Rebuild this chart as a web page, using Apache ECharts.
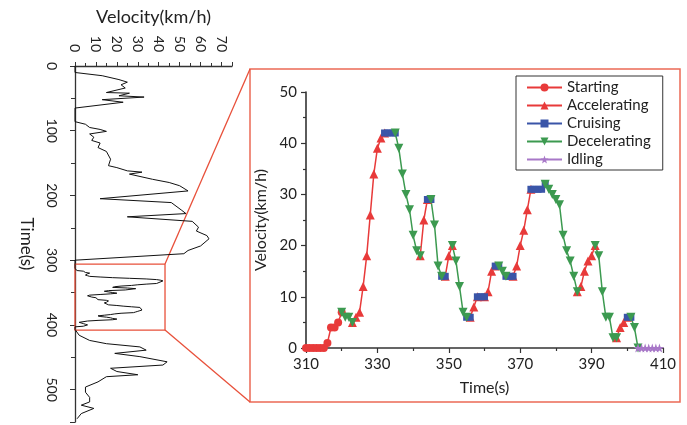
<!DOCTYPE html>
<html><head><meta charset="utf-8">
<script src="https://cdn.jsdelivr.net/npm/echarts@6/dist/echarts.min.js"></script>
<style>html,body{margin:0;padding:0;background:#fff}#c{width:687px;height:425px}</style>
</head><body><div id="c"></div>
<script>
// ---- overview (left) trace: time (s) and velocity (km/h), before and after the zoomed window
const overviewTimeA  = [0, 10, 15, 21, 25, 29, 34, 41, 42, 46, 48, 52, 56, 65, 86, 90, 95, 98, 101, 105, 110, 115, 119, 126, 132, 144, 154, 157, 162, 164, 167, 175, 180, 185, 193, 205, 211, 223, 228, 233, 240, 249, 255, 262, 267, 278, 285, 290, 300, 309];
const overviewSpeedA = [0, 0, 13, 21, 25, 22, 24, 15, 26, 21, 33, 13, 23, 0, 0, 5, 7, 12, 15, 7, 9, 8, 12, 11, 15, 17, 16, 20, 25, 32, 26, 37, 45, 50, 54, 12, 46, 51, 53, 25, 56, 59, 58, 63, 64, 60, 54, 52, 0, 0];
const overviewTimeB  = [410, 416, 424, 429, 434, 439, 444, 449, 457, 462, 467, 472, 477, 480, 488, 496, 504, 512, 519, 524, 529, 537, 545];
const overviewSpeedB = [0, 2, 7, 15, 31, 34, 19, 31, 44, 42, 17, 20, 30, 15, 11, 5, 5, 7, 7, 3, 9, 3, 1];

// ---- zoomed window (right)
const detailTime = [310,311,312,313,314,315,316,317,318,319,320,321,322,323,324,325,326,327,328,329,
  330,331,332,333,334,335,336,337,338,339,340,341,342,343,344,345,346,347,348,349,
  350,351,352,353,354,355,356,357,358,359,360,361,362,363,364,365,366,367,368,369,
  370,371,372,373,374,375,376,377,378,379,380,381,382,383,384,385,386,387,388,389,
  390,391,392,393,394,395,396,397,398,399,400,401,402,403,404,405,406,407,408,409];
const detailSpeed = [0,0,0,0,0,0,1,4,4,5,7,6,6,5,6,7,12,18,26,34,
  39,41,42,42,42,42,39,34,30,27,22,19,18,25,29,29,24,16,14,14,
  18,20,17,12,7,6,6,8,10,10,10,11,15,16,16,15,14,14,14,16,
  20,23,27,31,31,31,31,32,31,30,29,28,22,19,17,14,11,12,15,17,
  18,20,18,11,6,6,2,2,4,5,6,6,4,0,0,0,0,0,0,0];
// driving phase segments: [phase, first second, last second]
const phaseSegments = [
  ['Starting',310,320],['Decelerating',320,323],['Accelerating',323,332],['Cruising',332,335],
  ['Decelerating',335,342],['Accelerating',342,344],['Cruising',344,345],['Decelerating',345,348],
  ['Cruising',348,349],['Accelerating',349,351],['Decelerating',351,355],['Cruising',355,356],
  ['Accelerating',356,358],['Cruising',358,360],['Accelerating',360,363],['Cruising',363,364],
  ['Decelerating',364,366],['Cruising',366,368],['Accelerating',368,373],['Cruising',373,377],
  ['Decelerating',377,386],['Accelerating',386,391],['Decelerating',391,397],['Accelerating',397,400],
  ['Cruising',400,401],['Decelerating',401,403],['Idling',403,409]
];
const phaseNames = ['Starting','Accelerating','Cruising','Decelerating','Idling'];

const FONT = 'Lato';
const phaseStyle = {
  Starting:     {color:'#e83a3a', symbol:'circle',   size:8, rot:0},
  Accelerating: {color:'#e83a3a', symbol:'triangle', size:9, rot:0},
  Cruising:     {color:'#3a55a8', symbol:'rect',     size:7, rot:0},
  Decelerating: {color:'#3c9a50', symbol:'triangle', size:9, rot:180},
  Idling:       {color:'#a878c8', symbol:'path://M12 0L14.9 8.2L23.5 8.3L16.6 13.5L19.1 21.8L12 16.8L4.9 21.8L7.4 13.5L0.5 8.3L9.1 8.2Z', size:9, rot:0}
};

function phaseData(name){
  return detailTime.map((t,i)=>{
    const inside = phaseSegments.some(s=>s[0]===name && t>=s[1] && t<=s[2]);
    return inside ? [t, detailSpeed[i]] : [t, '-'];
  });
}

const overviewData = [];
overviewTimeA.forEach((t,i)=>overviewData.push([overviewSpeedA[i], t]));
detailTime.forEach((t,i)=>overviewData.push([detailSpeed[i], t]));
overviewTimeB.forEach((t,i)=>overviewData.push([overviewSpeedB[i], t]));

const axisCol = '#333';
const chart = echarts.init(document.getElementById('c'));
const phaseSeries = phaseNames.map(n=>({
  name:n, type:'line', xAxisIndex:1, yAxisIndex:1,
  data: phaseData(n), connectNulls:false,
  symbol: phaseStyle[n].symbol, symbolSize: phaseStyle[n].size, symbolRotate: phaseStyle[n].rot,
  showAllSymbol:true,
  lineStyle:{color:phaseStyle[n].color, width:1.5},
  itemStyle:{color:phaseStyle[n].color},
  emphasis:{disabled:true}, animation:false
}));

chart.setOption({
  animation:false,
  textStyle:{fontFamily:FONT},
  grid:[
    {left:75, top:66, width:157, height:357.5, containLabel:false},
    {left:306, top:92, width:357, height:256, containLabel:false}
  ],
  xAxis:[
    {gridIndex:0, type:'value', position:'top', min:0, max:75, interval:10,
     name:'Velocity(km/h)', nameLocation:'middle', nameGap:40,
     nameTextStyle:{fontFamily:FONT, fontSize:18, color:'#222'},
     axisLine:{lineStyle:{color:axisCol, width:1.3}},
     axisTick:{show:true, length:4, lineStyle:{color:axisCol}},
     minorTick:{show:true, splitNumber:2, length:3, lineStyle:{color:axisCol}},
     splitLine:{show:false},
     axisLabel:{rotate:-90, margin:14, fontFamily:FONT, fontSize:14, color:'#222',
       formatter:v=> (v%10===0 && v<=70) ? String(v) : ''}},
    {gridIndex:1, type:'value', min:310, max:410, interval:20,
     name:'Time(s)', nameLocation:'middle', nameGap:32,
     nameTextStyle:{fontFamily:FONT, fontSize:16, color:'#222'},
     axisLine:{onZero:false, lineStyle:{color:axisCol, width:1.6}},
     axisTick:{show:true, length:5, lineStyle:{color:axisCol, width:1.2}},
     minorTick:{show:true, splitNumber:2, length:3, lineStyle:{color:axisCol, width:1.2}},
     splitLine:{show:false},
     axisLabel:{margin:9, fontFamily:FONT, fontSize:15, color:'#222'}}
  ],
  yAxis:[
    {gridIndex:0, type:'value', inverse:true, min:0, max:550, interval:100,
     name:'Time(s)', nameLocation:'middle', nameGap:40, nameRotate:-90,
     nameTextStyle:{fontFamily:FONT, fontSize:17, color:'#222'},
     axisLine:{lineStyle:{color:axisCol, width:1.3}},
     axisTick:{show:true, length:5, lineStyle:{color:axisCol}},
     minorTick:{show:true, splitNumber:2, length:4, lineStyle:{color:axisCol}},
     splitLine:{show:false},
     axisLabel:{rotate:-90, margin:16, fontFamily:FONT, fontSize:14, color:'#222',
       formatter:v=> (v%100===0) ? String(v) : ''}},
    {gridIndex:1, type:'value', min:0, max:50, interval:10,
     name:'Velocity(km/h)', nameLocation:'middle', nameGap:34,
     nameTextStyle:{fontFamily:FONT, fontSize:16, color:'#222'},
     axisLine:{onZero:false, lineStyle:{color:axisCol, width:1.6}},
     axisTick:{show:true, length:5, lineStyle:{color:axisCol, width:1.2}},
     minorTick:{show:true, splitNumber:2, length:3, lineStyle:{color:axisCol, width:1.2}},
     splitLine:{show:false},
     axisLabel:{margin:9, fontFamily:FONT, fontSize:15, color:'#222'}}
  ],
  legend:{orient:'vertical', left:516, top:76, padding:[4,12,3,10], itemGap:3,
    itemWidth:35, itemHeight:10, borderColor:'#333', borderWidth:1,
    textStyle:{fontFamily:FONT, fontSize:15, color:'#222'}, data:phaseNames,
    selectedMode:false},
  series:[
    {name:'overview', type:'line', xAxisIndex:0, yAxisIndex:0, data:overviewData,
     showSymbol:false, lineStyle:{color:'#111', width:1}, emphasis:{disabled:true},
     markArea:{silent:true, itemStyle:{color:'rgba(0,0,0,0)', borderColor:'#e8503a', borderWidth:1.3},
       data:[[{coord:[0,306]},{coord:[43,408]}]]}},
    ...phaseSeries
  ]
});

const p1 = chart.convertToPixel({gridIndex:0}, [43, 306]);
const p2 = chart.convertToPixel({gridIndex:0}, [43, 408]);
const frame = {x1:250, y1:69, x2:680, y2:402};
chart.setOption({graphic:[
  {type:'rect', shape:{x:frame.x1, y:frame.y1, width:frame.x2-frame.x1, height:frame.y2-frame.y1},
   style:{fill:'none', stroke:'#ec6a55', lineWidth:1.5}, silent:true, z:0},
  {type:'line', shape:{x1:p1[0], y1:p1[1], x2:frame.x1, y2:frame.y1}, style:{stroke:'#e8503a', lineWidth:1.3}, silent:true},
  {type:'line', shape:{x1:p2[0], y1:p2[1], x2:frame.x1, y2:frame.y2}, style:{stroke:'#e8503a', lineWidth:1.3}, silent:true}
]});
</script></body></html>
